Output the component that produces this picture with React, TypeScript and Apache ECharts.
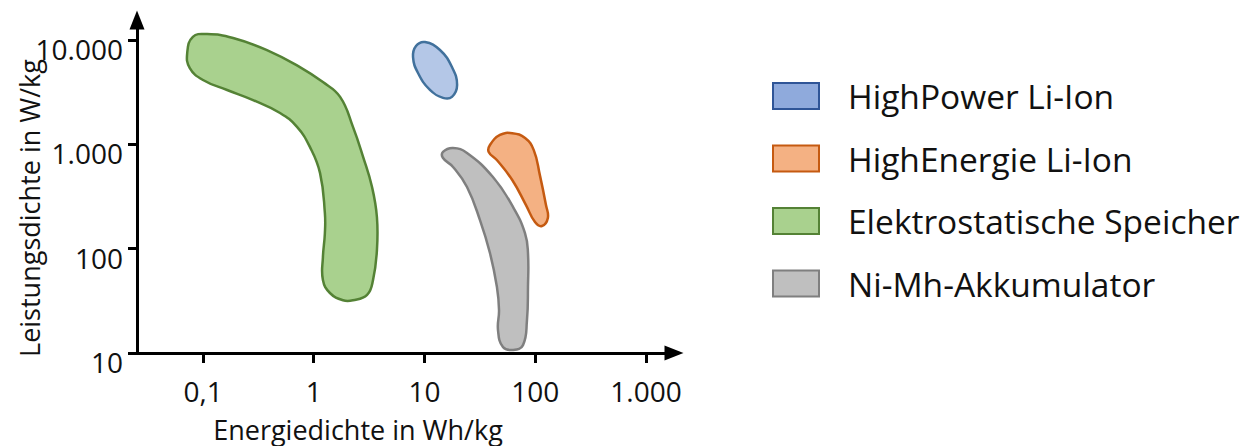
import React, { useEffect, useRef } from "react";
import * as echarts from "echarts";

// Energy density (Wh/kg), power density (W/kg) outline points for each region
const highPowerLiIon: number[][] = [
  [10.1, 9570], [13.8, 8020], [17.7, 5510], [19.7, 3700], [17.7, 2850],
  [14.7, 2790], [11.2, 3320], [8.74, 4830], [7.88, 6870], [8.38, 8770],
];
const highEnergieLiIon: number[][] = [
  [39, 985], [48, 1230], [62, 1280], [81, 1150], [97, 880], [110, 510],
  [125, 262], [130, 197], [115, 165], [99.5, 180], [82.5, 262], [62, 455],
  [45, 708], [38, 845],
];
const elektrostatisch: number[][] = [
  [0.072, 7500], [0.081, 10700], [0.109, 11400], [0.187, 10450], [0.378, 8000],
  [0.75, 5500], [1.21, 3950], [1.73, 2850], [2.26, 1470], [2.79, 760],
  [3.36, 390], [3.72, 200], [3.72, 97], [3.43, 50], [3.03, 36], [2.26, 32],
  [1.84, 32], [1.4, 37.6], [1.21, 50], [1.21, 83], [1.26, 140], [1.26, 220],
  [1.14, 530], [0.925, 940], [0.706, 1470], [0.496, 2000], [0.283, 2660],
  [0.165, 3320], [0.1, 4140], [0.076, 5390],
];
const niMh: number[][] = [
  [14.7, 845], [18.1, 922], [24.2, 826], [41.5, 486], [63, 251], [80.8, 141],
  [86, 91], [86, 43], [84.2, 20.7], [77.5, 11.9], [63, 10.7], [51.1, 11.4],
  [46.1, 16.6], [47.1, 25.8], [45.1, 42.9], [39, 91], [31.7, 188],
  [24.2, 390], [18.1, 607], [14.7, 740],
];

const seriesNames = [
  "HighPower Li-Ion",
  "HighEnergie Li-Ion",
  "Elektrostatische Speicher",
  "Ni-Mh-Akkumulator",
];
const seriesShapes = [highPowerLiIon, highEnergieLiIon, elektrostatisch, niMh];

const xTickValues = [0.1, 1, 10, 100, 1000];
const xTickLabels = ["0,1", "1", "10", "100", "1.000"];
const yTickValues = [10, 100, 1000, 10000];
const yTickLabels = ["10", "100", "1.000", "10.000"];

const xTitle = "Energiedichte in Wh/kg";
const yTitle = "Leistungsdichte in W/kg";

const fills = ["#B4C7E7", "#F4B183", "#A9D18E", "#BFBFBF"];
const strokes = ["#41719C", "#C55A11", "#548235", "#7F7F7F"];
const legendFills = ["#8FAADC", "#F4B183", "#A9D18E", "#BFBFBF"];
const legendStrokes = ["#2F5597", "#C55A11", "#548235", "#7F7F7F"];

const FONT = "'Open Sans', 'Noto Sans', sans-serif";

export default function App() {
  const ref = useRef<HTMLDivElement>(null);
  useEffect(() => {
    if (!ref.current) return;
    const chart = echarts.init(ref.current, undefined, { renderer: "svg" });
    const lx = xTickValues.map((v) => Math.log10(v));
    const ly = yTickValues.map((v) => Math.log10(v));
    const xLabelMap: Record<string, string> = {};
    lx.forEach((v, i) => (xLabelMap[Math.round(v)] = xTickLabels[i]));
    const yLabelMap: Record<string, string> = {};
    ly.forEach((v, i) => (yLabelMap[Math.round(v)] = yTickLabels[i]));

    const series = seriesShapes.map((shape, si) => ({
      type: "custom",
      name: seriesNames[si],
      coordinateSystem: "cartesian2d",
      itemStyle: { color: fills[si], borderColor: strokes[si] },
      data: shape.map((p) => [Math.log10(p[0]), Math.log10(p[1])]),
      renderItem: (params: any, api: any) => {
        if (params.dataIndex !== 0) return null;
        const pts = shape.map((p) => api.coord([Math.log10(p[0]), Math.log10(p[1])]));
        return {
          type: "polygon",
          shape: { points: pts, smooth: 0.45 },
          style: { fill: fills[si], stroke: strokes[si], lineWidth: 2.5 },
        };
      },
    }));

    chart.setOption({
      animation: false,
      grid: { left: 137, right: 1243 - 674, top: 20, bottom: 446 - 353, containLabel: false },
      xAxis: {
        type: "value",
        min: -1.596,
        max: 3.253,
        splitLine: { show: false },
        axisLine: {
          show: true,
          onZero: false,
          lineStyle: { color: "#000", width: 3 },
          symbol: ["none", "triangle"],
          symbolSize: [15, 19],
        },
        axisTick: {
          show: true,
          customValues: lx,
          length: 10,
          lineStyle: { color: "#000", width: 3 },
        },
        axisLabel: {
          customValues: lx,
          formatter: (v: number) => xLabelMap[Math.round(v)] ?? "",
          fontSize: 28,
          fontFamily: FONT,
          color: "#111",
          margin: 24,
        },
      },
      yAxis: {
        type: "value",
        min: 1,
        max: 4.192,
        splitLine: { show: false },
        axisLine: {
          show: true,
          onZero: false,
          lineStyle: { color: "#000", width: 3 },
          symbol: ["none", "triangle"],
          symbolSize: [15, 19],
        },
        axisTick: {
          show: true,
          customValues: ly,
          length: 9,
          lineStyle: { color: "#000", width: 3 },
        },
        axisLabel: {
          customValues: ly,
          formatter: (v: number) => yLabelMap[Math.round(v)] ?? "",
          fontSize: 28,
          fontFamily: FONT,
          color: "#111",
          margin: 14,
          verticalAlign: "top",
          lineHeight: 18,
        },
      },
      legend: {
        orient: "vertical",
        left: 767,
        top: 74,
        itemWidth: 46,
        itemHeight: 26,
        itemGap: 28.5,
        icon: "rect",
        selectedMode: false,
        textStyle: {
          fontSize: 33.5,
          fontFamily: FONT,
          color: "#111",
          padding: [0, 0, 0, 24],
        },
        data: seriesNames.map((n, i) => ({
          name: n,
          icon: "rect",
          itemStyle: { color: legendFills[i], borderColor: legendStrokes[i], borderWidth: 2 },
        })),
      },
      graphic: [
        {
          type: "text",
          x: 358,
          y: 429,
          style: {
            text: xTitle,
            fontSize: 27,
            fontFamily: FONT,
            fill: "#111",
            textAlign: "center",
            textVerticalAlign: "middle",
          },
        },
        {
          type: "text",
          x: 29,
          y: 208,
          rotation: Math.PI / 2,
          style: {
            text: yTitle,
            fontSize: 27,
            fontFamily: FONT,
            fill: "#111",
            textAlign: "center",
            textVerticalAlign: "middle",
          },
        },
      ],
      series,
    });
    return () => chart.dispose();
  }, []);
  return (
    <div
      ref={ref}
      style={{ position: "absolute", left: 0, top: 0, width: 1243, height: 446 }}
    />
  );
}
